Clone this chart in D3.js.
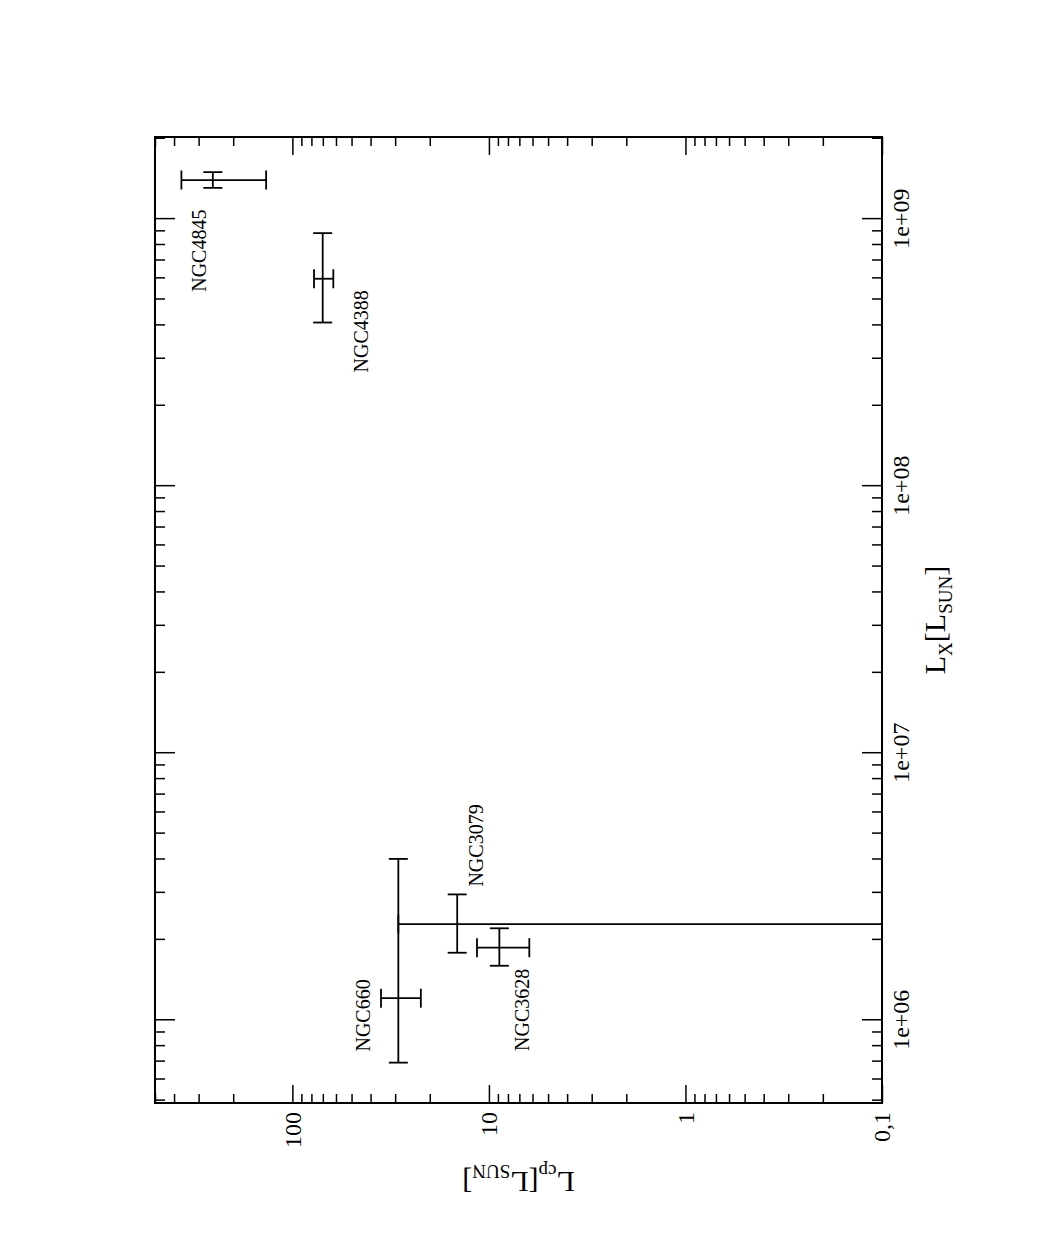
<!DOCTYPE html>
<html>
<head>
<meta charset="utf-8">
<script src="https://cdn.jsdelivr.net/npm/d3@7"></script>
<style>
  html, body { margin: 0; padding: 0; background: #fff; }
  svg { display: block; }
  text { font-family: "Liberation Serif", "Times New Roman", serif; fill: #000; }
</style>
</head>
<body>
<svg id="chart" width="1038" height="1246"></svg>
<script>
// ---- data ----
const galaxies = ["NGC4845", "NGC4388", "NGC660", "NGC3079", "NGC3628"];
const lxValues = [1.40e9, 5.98e8, 1.21e6, 2.29e6, 1.87e6];
const lxLow    = [1.31e9, 4.10e8, 6.94e5, 1.79e6, 1.60e6];
const lxHigh   = [1.50e9, 8.86e8, 4.02e6, 2.96e6, 2.21e6];
const lcpValues = [254, 70.1, 28.9, 14.5, 8.85];
const lcpLow    = [136, 61.9, 22.2, 0, 6.23];   // 0 = unbounded below
const lcpHigh   = [367, 77.6, 35.4, 28.9, 11.5];

const lxMajorTicks = [1e6, 1e7, 1e8, 1e9];
const lxTickLabels = ["1e+06", "1e+07", "1e+08", "1e+09"];
const lcpMajorTicks = [0.1, 1, 10, 100];
const lcpTickLabels = ["0,1", "1", "10", "100"];

// label placement (pixel offsets along L_X and L_cp directions)
const labelOffsets = [[-111.7, -6.7], [-93.7, 45.6], [-53.4, -28.3], [37.6, 26], [-103.3, 30]];

// ---- layout ----
const W = 966, H = 727;   // un-rotated plot width (L_X) and height (L_cp)
const svg = d3.select("#chart");
svg.append("rect").attr("width", 1038).attr("height", 1246).attr("fill", "#fff");
const g = svg.append("g").attr("transform", "translate(155,1103) rotate(-90)");

const x = d3.scaleLog().domain([4.9e5, 2.03e9]).range([0, W]);
const y = d3.scaleLog().domain([0.1, 500]).range([H, 0]);

const xMinor = x.ticks().filter(v => !lxMajorTicks.some(m => Math.abs(m - v) / m < 1e-9));
const yMinor = y.ticks().filter(v => !lcpMajorTicks.some(m => Math.abs(m - v) / m < 1e-9));

function styleAxis(sel) {
  sel.select(".domain").remove();
  sel.selectAll(".tick line").attr("stroke", "#000").attr("stroke-width", 1.5);
  sel.selectAll("text").attr("font-size", 24).attr("font-family", "Liberation Serif, Times New Roman, serif").attr("fill", "#000");
}

// bottom (L_X) axis
g.append("g").attr("transform", `translate(0,${H})`)
  .call(d3.axisBottom(x).tickValues(lxMajorTicks).tickFormat((d, i) => lxTickLabels[i]).tickSizeInner(-20).tickSizeOuter(0).tickPadding(10))
  .call(styleAxis);
g.append("g").attr("transform", `translate(0,${H})`)
  .call(d3.axisBottom(x).tickValues(xMinor).tickFormat("").tickSizeInner(-10).tickSizeOuter(0))
  .call(styleAxis);
// top mirror
g.append("g")
  .call(d3.axisTop(x).tickValues(lxMajorTicks).tickFormat("").tickSizeInner(-20).tickSizeOuter(0))
  .call(styleAxis);
g.append("g")
  .call(d3.axisTop(x).tickValues(xMinor).tickFormat("").tickSizeInner(-10).tickSizeOuter(0))
  .call(styleAxis);

// left (L_cp) axis
g.append("g")
  .call(d3.axisLeft(y).tickValues(lcpMajorTicks).tickFormat((d, i) => lcpTickLabels[i]).tickSizeInner(-18).tickSizeOuter(0).tickPadding(9))
  .call(styleAxis);
g.append("g")
  .call(d3.axisLeft(y).tickValues(yMinor).tickFormat("").tickSizeInner(-9).tickSizeOuter(0))
  .call(styleAxis);
// right mirror
g.append("g").attr("transform", `translate(${W},0)`)
  .call(d3.axisRight(y).tickValues(lcpMajorTicks).tickFormat("").tickSizeInner(-18).tickSizeOuter(0))
  .call(styleAxis);
g.append("g").attr("transform", `translate(${W},0)`)
  .call(d3.axisRight(y).tickValues(yMinor).tickFormat("").tickSizeInner(-9).tickSizeOuter(0))
  .call(styleAxis);

// frame
g.append("rect").attr("width", W).attr("height", H).attr("fill", "none").attr("stroke", "#000").attr("stroke-width", 2);

// clip
g.append("clipPath").attr("id", "plotclip").append("rect").attr("width", W).attr("height", H);
const plot = g.append("g").attr("clip-path", "url(#plotclip)");

const cap = 9.5;
const data = galaxies.map((name, i) => ({
  name, lx: lxValues[i], lxL: lxLow[i], lxH: lxHigh[i],
  lcp: lcpValues[i], lcpL: lcpLow[i], lcpH: lcpHigh[i], off: labelOffsets[i]
}));

function line(sel, x1, y1, x2, y2) {
  sel.append("line").attr("x1", x1).attr("y1", y1).attr("x2", x2).attr("y2", y2)
    .attr("stroke", "#000").attr("stroke-width", 1.8);
}

data.forEach(d => {
  const px = x(d.lx), py = y(d.lcp);
  const gg = plot.append("g");
  // L_X error bar
  const xl = x(d.lxL), xh = x(d.lxH);
  line(gg, xl, py, xh, py);
  line(gg, xl, py - cap, xl, py + cap);
  line(gg, xh, py - cap, xh, py + cap);
  // L_cp error bar
  const yl = d.lcpL > 0 ? y(d.lcpL) : H + 5;
  const yh = y(d.lcpH);
  line(gg, px, yl, px, yh);
  if (d.lcpL > 0) line(gg, px - cap, yl, px + cap, yl);
  line(gg, px - cap, yh, px + cap, yh);
});

// labels
g.selectAll(".glabel").data(data).enter().append("text")
  .attr("class", "glabel")
  .attr("x", d => x(d.lx) + d.off[0])
  .attr("y", d => y(d.lcp) + d.off[1])
  .attr("font-size", 20)
  .text(d => d.name);

// axis titles
const xt = g.append("text").attr("x", W / 2).attr("y", H + 63).attr("text-anchor", "middle").attr("font-size", 30);
xt.append("tspan").text("L");
xt.append("tspan").attr("font-size", 19).attr("dy", 7).text("X");
xt.append("tspan").attr("dy", -7).text("[L");
xt.append("tspan").attr("font-size", 19).attr("dy", 7).text("SUN");
xt.append("tspan").attr("dy", -7).text("]");

const yt = g.append("text").attr("transform", `translate(-69,${H / 2}) rotate(-90)`).attr("text-anchor", "middle").attr("font-size", 30);
yt.append("tspan").text("L");
yt.append("tspan").attr("font-size", 19).attr("dy", 7).text("cp");
yt.append("tspan").attr("dy", -7).text("[L");
yt.append("tspan").attr("font-size", 19).attr("dy", 7).text("SUN");
yt.append("tspan").attr("dy", -7).text("]");
</script>
</body>
</html>
